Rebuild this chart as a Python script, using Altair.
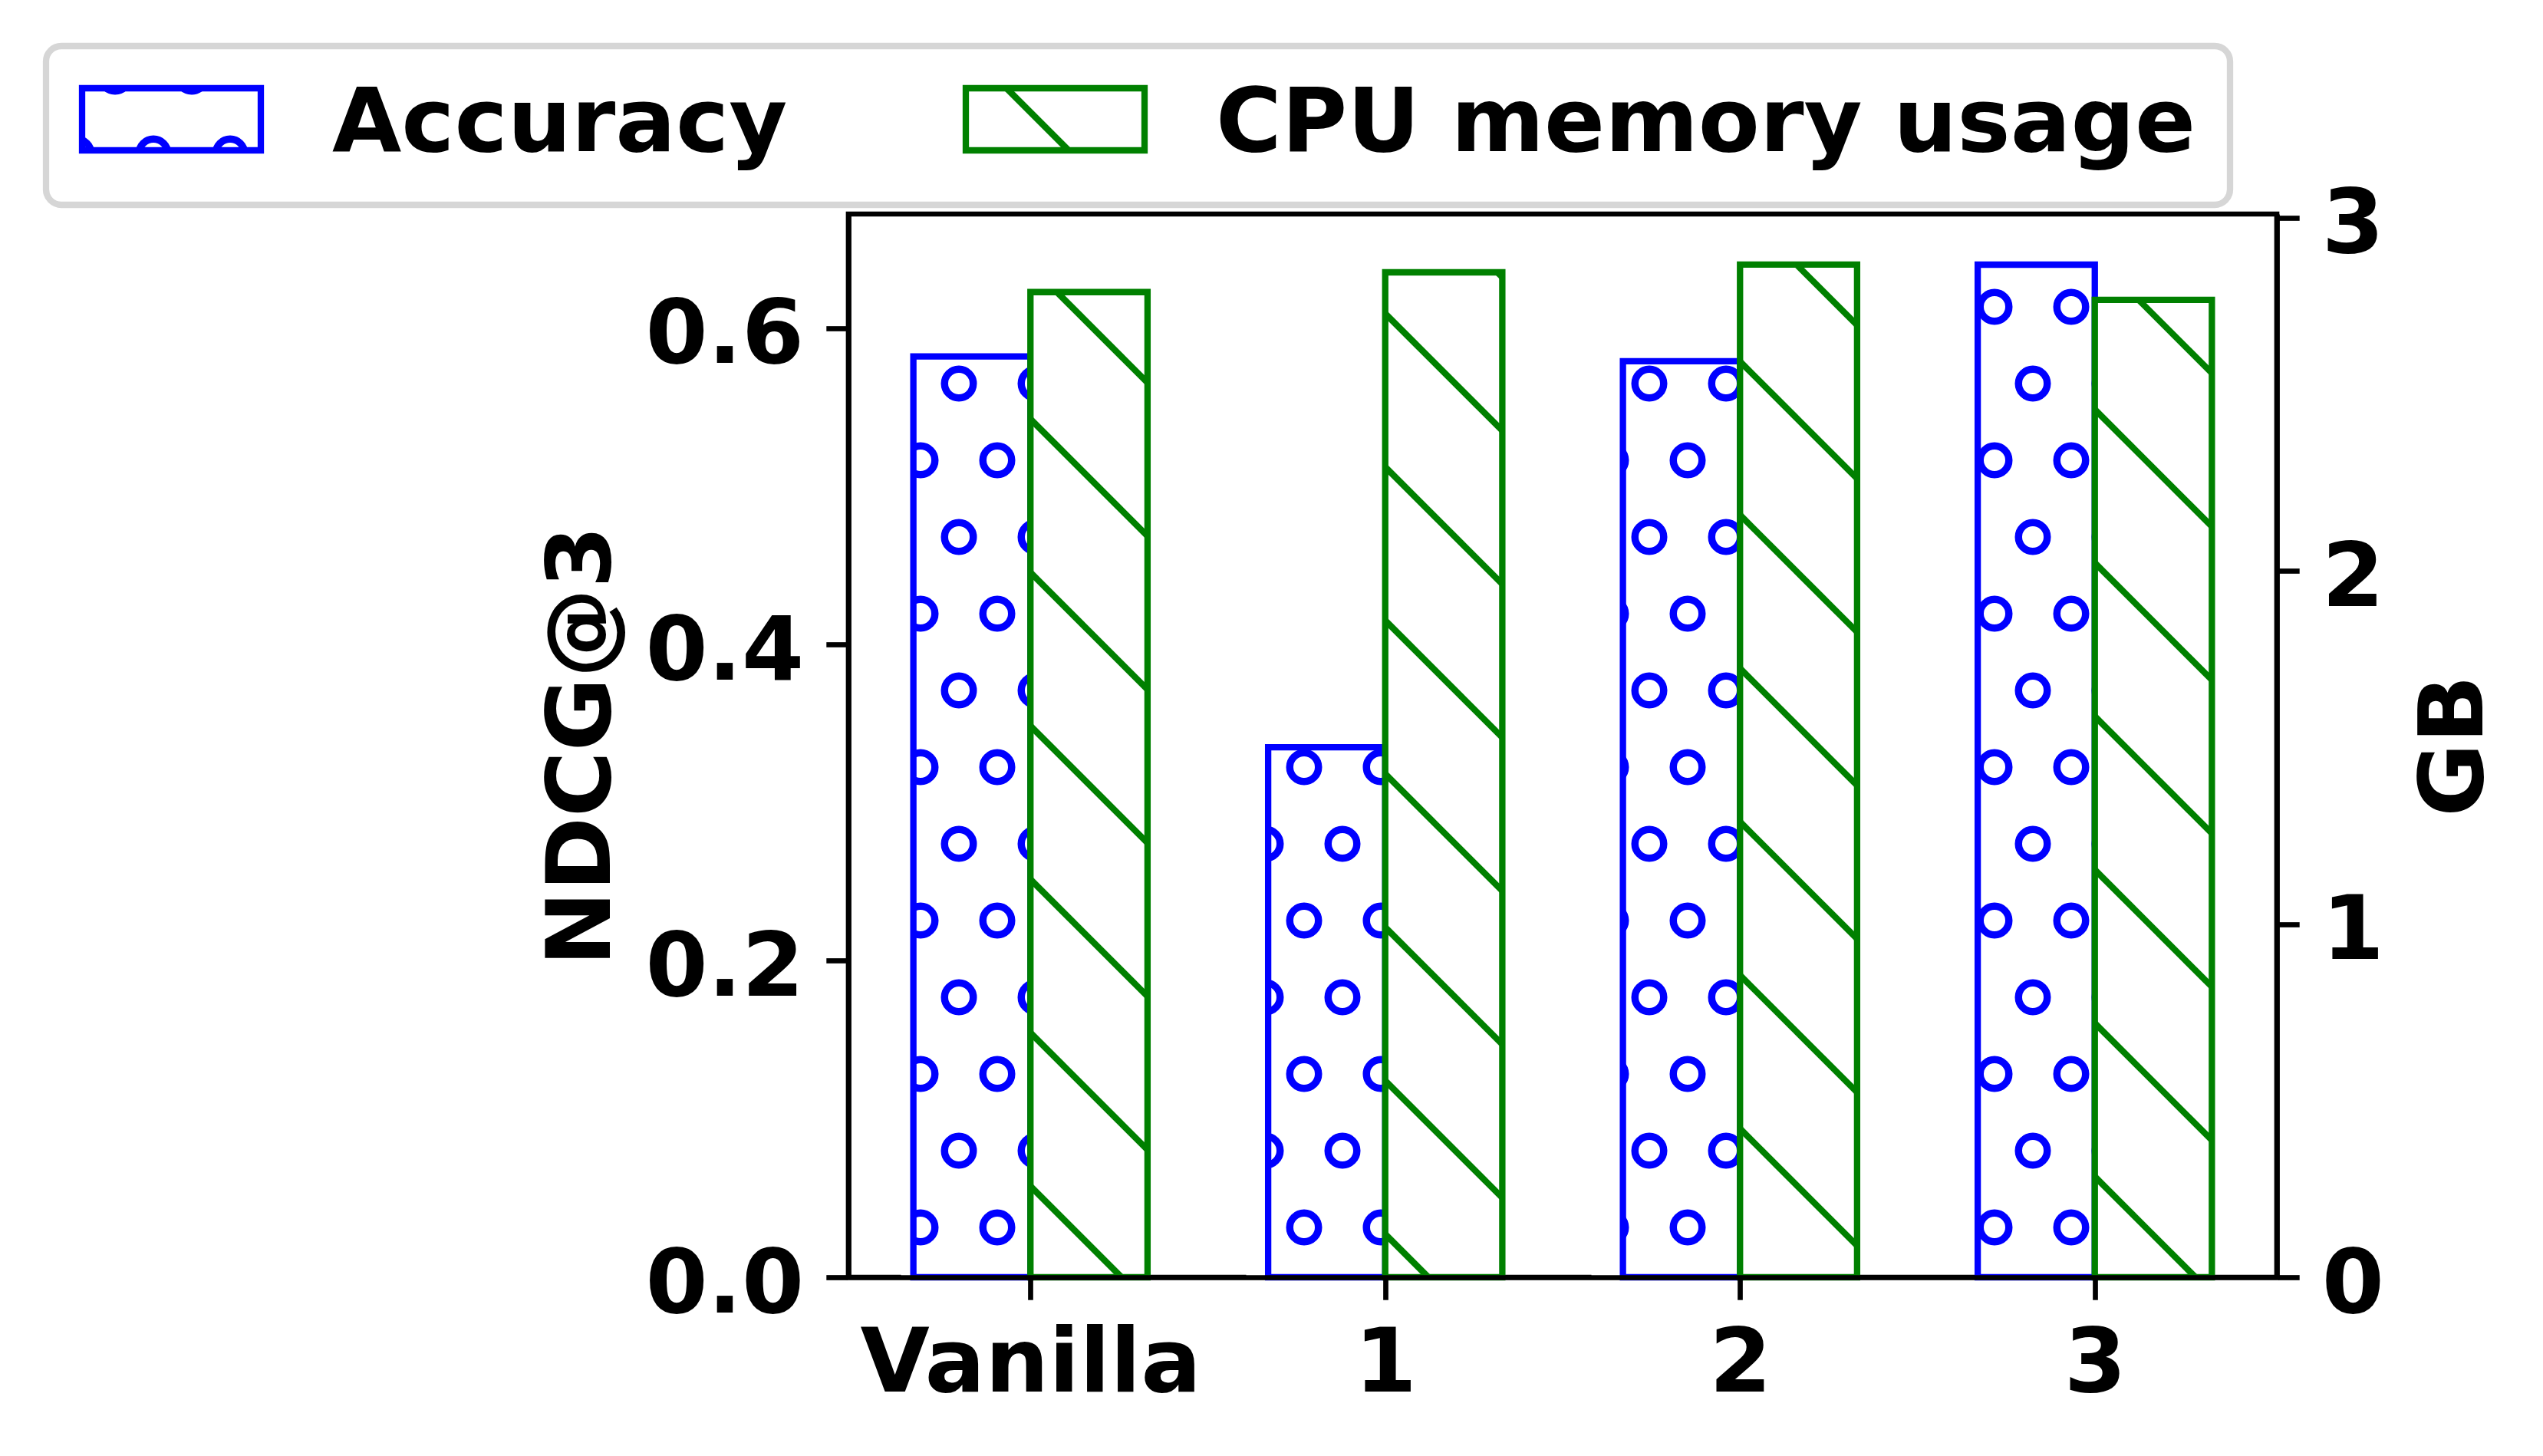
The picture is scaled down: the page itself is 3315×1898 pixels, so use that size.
import json
import numpy as np
import pandas as pd
import altair as alt

# ---------------- data ----------------
categories = ["Vanilla", "1", "2", "3"]
accuracy = [0.582, 0.335, 0.579, 0.640]          # NDCG@3 (left axis)
cpu_memory_gb = [2.789, 2.845, 2.867, 2.767]      # GB (right axis)
series_names = ["Accuracy", "CPU memory usage"]
left_ticks = [0.0, 0.2, 0.4, 0.6]
right_ticks = [0, 1, 2, 3]
left_title = "NDCG@3"
right_title = "GB"

# ---------------- layout / style ----------------
PAD_L, PAD_T, PAD_R, PAD_B = 1106, 279, 347, 233
W, H = 1862, 1386
BAR_W = 0.33
XDOM = [-0.513, 3.513]
LDOM = [0.0, 0.672]
RDOM = [0.0, 3.01]
BLUE, GREEN = "#0000ff", "#008000"
FONT = "DejaVu Sans"
FS = 116.7
LW = 8.3
SPINE = 6.7
TICK = 29.2
CIRCLE_D = 37.5
CIRCLE_LW = 9.5
R_OUT = CIRCLE_D / 2 + CIRCLE_LW / 2
CELL = 100                 # hatch 'o' cell (px)
LINE_STEP, LINE_PHASE = 200, 3   # hatch '\' spacing (px)


def X_of(xv):
    return PAD_L + (xv - XDOM[0]) / (XDOM[1] - XDOM[0]) * W


def xv_of(X):
    return XDOM[0] + (X - PAD_L) / W * (XDOM[1] - XDOM[0])


def Y_of(v, dom):
    return PAD_T + H - (v - dom[0]) / (dom[1] - dom[0]) * H


def v_of(Y, dom):
    return dom[0] + (PAD_T + H - Y) / H * (dom[1] - dom[0])


def circles_in(x0, x1, y0, y1):
    pts = []
    for m in range(int(np.floor((y0 - R_OUT) / CELL)), int(np.ceil((y1 + R_OUT) / CELL)) + 1):
        Y = m * CELL
        if not (y0 - R_OUT < Y < y1 + R_OUT):
            continue
        off = CELL / 2 if m % 2 else 0
        for j in range(int(np.floor((x0 - R_OUT - off) / CELL)) - 1,
                       int(np.ceil((x1 + R_OUT - off) / CELL)) + 2):
            X = j * CELL + off
            if x0 - R_OUT < X < x1 + R_OUT:
                pts.append((X, Y))
    return pts


def masks_for(x0, x1, y0, y1, pts, bottom=True):
    el = max([x0 - (X - R_OUT) for X, _ in pts] + [0]) + 2
    er = max([(X + R_OUT) - x1 for X, _ in pts] + [0]) + 2
    et = max([y0 - (Y - R_OUT) for _, Y in pts] + [0]) + 2
    eb = (max([(Y + R_OUT) - y1 for _, Y in pts] + [0]) + 2) if bottom else 0
    rects = [
        (x0 - el, x0, y0 - et, y1 + eb),
        (x1, x1 + er, y0 - et, y1 + eb),
        (x0 - el, x1 + er, y0 - et, y0),
    ]
    if bottom:
        rects.append((x0 - el, x1 + er, y1, y1 + eb))
    return rects


def hatch_segments(x0, x1, y0, y1):
    segs = []
    cmin, cmax = y0 - x1, y1 - x0
    k0 = int(np.ceil((cmin - LINE_PHASE) / LINE_STEP))
    k1 = int(np.floor((cmax - LINE_PHASE) / LINE_STEP))
    for k in range(k0, k1 + 1):
        c = LINE_PHASE + k * LINE_STEP
        lo, hi = max(x0, y0 - c), min(x1, y1 - c)
        if hi - lo > 1:
            segs.append((lo, lo + c, hi, hi + c))
    return segs


# ---------------- tables ----------------
bars = pd.DataFrame({
    "cat": categories,
    "i": list(range(len(categories))),
    "acc": accuracy,
    "mem": cpu_memory_gb,
})
bars["xlo"] = bars["i"] - BAR_W
bars["xmid"] = bars["i"].astype(float)
bars["xhi"] = bars["i"] + BAR_W

circ_rows, mask_rows, line_rows = [], [], []
base_Y = PAD_T + H
for _, r in bars.iterrows():
    # blue bar with 'o' hatch
    bx0, bx1 = X_of(r["xlo"]), X_of(r["xmid"])
    by0 = Y_of(r["acc"], LDOM)
    pts = [p for p in circles_in(bx0, bx1, by0, base_Y) if p[1] - R_OUT < base_Y]
    circ_rows += [{"x": xv_of(X), "y": v_of(Y, LDOM)} for X, Y in pts]
    mask_rows += [{"x": xv_of(a), "x2": xv_of(b), "y": v_of(c, LDOM), "y2": v_of(d, LDOM)}
                  for a, b, c, d in masks_for(bx0, bx1, by0, base_Y, pts, bottom=False)]
    # green bar with '\' hatch
    gx0, gx1 = X_of(r["xmid"]), X_of(r["xhi"])
    gy0 = Y_of(r["mem"], RDOM)
    line_rows += [{"x": xv_of(a), "y": v_of(b, RDOM), "x2": xv_of(c), "y2": v_of(d, RDOM)}
                  for a, b, c, d in hatch_segments(gx0, gx1, gy0, base_Y)]

# legend (absolute px on the canvas)
LEG_FRAME = (60, 2907, 60, 267)
PATCH1 = (107, 340, 115, 196)
PATCH2 = (1259, 1492, 115, 196)
TEXT1_X, TEXT2_X, TEXT_Y = 433, 1585, 197

pts = circles_in(*PATCH1)
circ_rows += [{"x": xv_of(X), "y": v_of(Y, LDOM)} for X, Y in pts]
mask_rows += [{"x": xv_of(a), "x2": xv_of(b), "y": v_of(c, LDOM), "y2": v_of(d, LDOM)}
              for a, b, c, d in masks_for(*PATCH1, pts)]
line_rows += [{"x": xv_of(a), "y": v_of(b, RDOM), "x2": xv_of(c), "y2": v_of(d, RDOM)}
              for a, b, c, d in hatch_segments(*PATCH2)]

circ_df = pd.DataFrame(circ_rows)
mask_df = pd.DataFrame(mask_rows)
line_df = pd.DataFrame(line_rows)
one = pd.DataFrame({"k": [0]})

xs = alt.Scale(domain=XDOM, nice=False, zero=False)
ls = alt.Scale(domain=LDOM, nice=False, zero=False)
rs = alt.Scale(domain=RDOM, nice=False, zero=False)


def rel_rect(box):
    x0, x1, y0, y1 = box
    return dict(x=alt.value(x0 - PAD_L), x2=alt.value(x1 - PAD_L),
                y=alt.value(y0 - PAD_T), y2=alt.value(y1 - PAD_T))


x_axis = alt.Axis(values=list(range(len(categories))),
                  labelExpr=f"{json.dumps(categories)}[datum.value]",
                  title=None, labelPadding=119, labelBaseline="alphabetic",
                  labelFlush=False, labelOverlap=False, labelLimit=2000,
                  zindex=1, grid=False)
l_axis = alt.Axis(values=left_ticks, format=".1f", title=left_title, orient="left",
                  titleX=-312, titleY=H / 2, titleAngle=270, titleAlign="center",
                  titleBaseline="alphabetic", labelPadding=29, labelBaseline="alphabetic",
                  labelOffset=45, labelFlush=False, labelOverlap=False, labelLimit=2000,
                  titleLimit=3000, zindex=1, grid=False)
r_axis = alt.Axis(values=right_ticks, format="d", orient="right", title=right_title,
                  titleX=267, titleY=H / 2, titleAngle=270, titleAlign="center",
                  titleBaseline="alphabetic", labelPadding=29, labelBaseline="alphabetic",
                  labelOffset=45, labelFlush=False, labelOverlap=False, labelLimit=2000,
                  titleLimit=3000, zindex=1, grid=False)

# ---------- left (accuracy) group ----------
legend_frame = alt.Chart(one).mark_rect(
    fill="white", stroke="#d6d6d6", strokeWidth=LW, cornerRadius=20
).encode(**rel_rect(LEG_FRAME))

circles = alt.Chart(circ_df).mark_point(
    shape="circle", filled=False, size=CIRCLE_D ** 2, strokeWidth=CIRCLE_LW,
    color=BLUE, opacity=1
).encode(
    x=alt.X("x:Q", scale=xs, axis=x_axis),
    y=alt.Y("y:Q", scale=ls, axis=l_axis),
)

masks = alt.Chart(mask_df).mark_rect(fill="white", strokeWidth=0).encode(
    x=alt.X("x:Q", scale=xs, axis=x_axis), x2="x2:Q",
    y=alt.Y("y:Q", scale=ls, axis=l_axis), y2="y2:Q",
)

acc_bars = alt.Chart(bars).mark_rect(
    filled=False, stroke=BLUE, strokeWidth=LW
).encode(
    x=alt.X("xlo:Q", scale=xs, axis=x_axis), x2="xmid:Q",
    y=alt.Y("acc:Q", scale=ls, axis=l_axis), y2=alt.datum(0),
)

patch1 = alt.Chart(one).mark_rect(filled=False, stroke=BLUE, strokeWidth=LW).encode(**rel_rect(PATCH1))

text_style = dict(align="left", baseline="alphabetic", font=FONT, fontSize=FS,
                  fontWeight="bold", color="black")
text1 = alt.Chart(one).mark_text(text=series_names[0], **text_style).encode(
    x=alt.value(TEXT1_X - PAD_L), y=alt.value(TEXT_Y - PAD_T))
text2 = alt.Chart(one).mark_text(text=series_names[1], **text_style).encode(
    x=alt.value(TEXT2_X - PAD_L), y=alt.value(TEXT_Y - PAD_T))

left = alt.layer(legend_frame, circles, masks, acc_bars, patch1, text1, text2)

# ---------- right (memory) group ----------
mem_bars = alt.Chart(bars).mark_rect(
    fill="white", stroke=GREEN, strokeWidth=LW
).encode(
    x=alt.X("xmid:Q", scale=xs, axis=x_axis), x2="xhi:Q",
    y=alt.Y("mem:Q", scale=rs, axis=r_axis), y2=alt.datum(0),
)

hatch_lines = alt.Chart(line_df).mark_rule(color=GREEN, strokeWidth=LW).encode(
    x=alt.X("x:Q", scale=xs, axis=x_axis), x2="x2:Q",
    y=alt.Y("y:Q", scale=rs, axis=r_axis), y2="y2:Q",
)

patch2 = alt.Chart(one).mark_rect(filled=False, stroke=GREEN, strokeWidth=LW).encode(**rel_rect(PATCH2))

right = alt.layer(mem_bars, hatch_lines, patch2)

chart = alt.layer(left, right).resolve_scale(y="independent").properties(
    width=W, height=H,
    autosize=alt.AutoSizeParams(type="none"),
    padding={"left": PAD_L, "top": PAD_T, "right": PAD_R, "bottom": PAD_B},
    background="white",
).configure_view(
    stroke="black", strokeWidth=SPINE
).configure_axis(
    labelFont=FONT, labelFontSize=FS, labelFontWeight="bold", labelColor="black",
    titleFont=FONT, titleFontSize=FS, titleFontWeight="bold", titleColor="black",
    domainColor="black", domainWidth=SPINE, tickColor="black", tickWidth=SPINE,
    tickSize=TICK, labelLimit=2000,
)

chart.save("out.html", embed_options={"renderer": "svg", "actions": False})
